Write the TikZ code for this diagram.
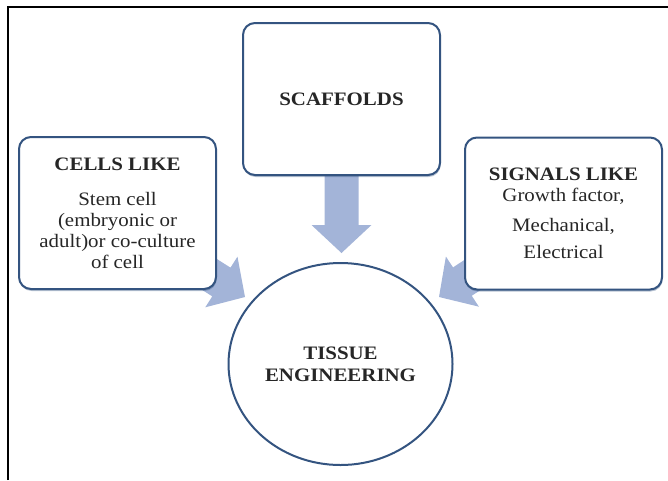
\documentclass[tikz,border=0pt]{standalone}
\usepackage{fontspec}
\setmainfont{Liberation Serif}
\newfontfamily\diagfont[FakeStretch=1.1]{Liberation Serif}
\usetikzlibrary{shapes.geometric,calc,backgrounds,shadows}

%Colors
\definecolor{boxline}{RGB}{52,84,128}
\definecolor{arrowfill}{RGB}{163,180,216}

% fat block arrow: #1 start, #2 tip
\newcommand{\fatarrow}[2]{%
  \coordinate (hb) at ($(#2)!28pt!(#1)$);
  \fill[arrowfill] ($(#1)!17pt!90:(#2)$) -- ($(hb)!17pt!90:(#2)$)
    -- ($(hb)!30pt!90:(#2)$) -- (#2) -- ($(hb)!30pt!-90:(#2)$)
    -- ($(hb)!17pt!-90:(#2)$) -- ($(#1)!17pt!-90:(#2)$) -- cycle;
}

\begin{document}
\begin{tikzpicture}
			[x=1pt,y=-1pt,
			%Styles
			box/.style={draw=boxline,line width=2pt,rounded corners=12pt,fill=white,
				minimum width=197pt,minimum height=152pt,align=center,inner sep=2pt,
				font=\diagfont\fontsize{19}{21}\selectfont,text=black!85,
				drop shadow={shadow xshift=0.6pt,shadow yshift=-2pt,opacity=0.35,fill=boxline}},
			hub/.style={ellipse,draw=boxline,line width=2pt,fill=white,
				minimum width=224pt,minimum height=202pt,align=center,
				font=\diagfont\fontsize{19}{22}\selectfont\bfseries,text=black!85}
			]
			\useasboundingbox (0,0) rectangle (668,480);
			
			%The graphic
			\draw[line width=2pt] (8,480) -- (8,7) -- (668,7);
			
			\node[box] (scaffolds) at (341.5,99) {\textbf{SCAFFOLDS}};
			\node[box] (cells) at (117.5,213) {\textbf{CELLS LIKE}\\[14pt]
				Stem cell\\(embryonic or\\adult)or co-culture\\of cell};
			\node[box] (signals) at (563.5,213.5) {\textbf{SIGNALS LIKE}\\
				Growth factor,\\[9pt]Mechanical,\\[6pt]Electrical};
			\node[hub] (tissue) at (340.5,364) {TISSUE\\ENGINEERING};
			
			\coordinate (scafout) at (341.5,165);
			\coordinate (scaftip) at (341.5,253);
			\coordinate (cellsout) at (160,243);
			\coordinate (cellstip) at (245,297);
			\coordinate (signout) at (521,243);
			\coordinate (signtip) at (439,297);
			
			\begin{pgfonlayer}{background}
				\fatarrow{scafout}{scaftip}
				\fatarrow{cellsout}{cellstip}
				\fatarrow{signout}{signtip}
			\end{pgfonlayer}
		\end{tikzpicture}
\end{document}
